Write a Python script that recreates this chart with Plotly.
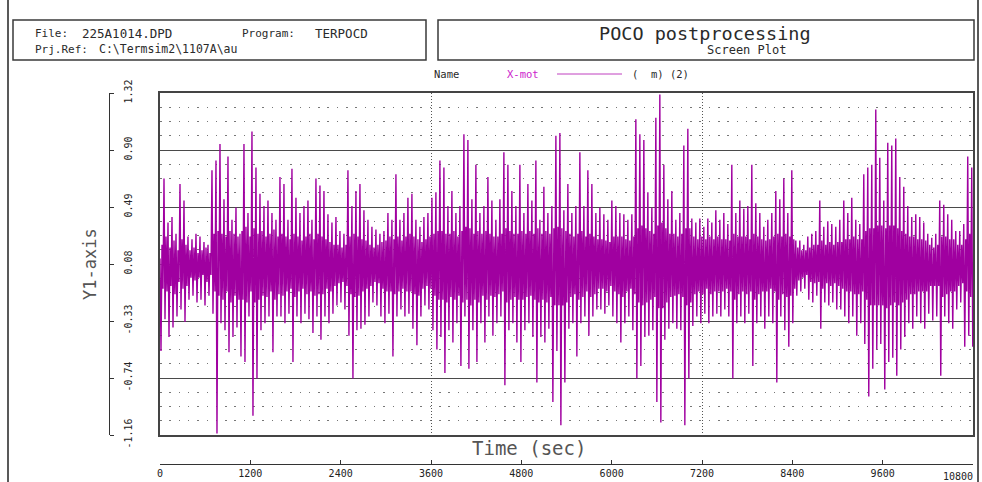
import numpy as np
import plotly.graph_objects as go

# ---- data -------------------------------------------------------------
T_STEP = 13.28  # sample interval of the displayed record, s

# X-mot response (m), sampled every T_STEP seconds
x_mot = [
    0.12, -0.55, 0.22, -0.10, 0.70, -0.32, 0.28, -0.12, 0.38, -0.45, 0.20, -0.08, 0.42, -0.38, 0.25, -0.14, 0.30, -0.30, 0.18, -0.05,
    0.66, -0.25, 0.26, -0.10, 0.54, -0.34, 0.22, -0.08, 0.28, -0.18, 0.18, -0.02, 0.26, -0.15, 0.20, -0.04, 0.30, -0.20, 0.16, -0.02,
    0.28, -0.18, 0.18, 0.00, 0.24, -0.22, 0.20, -0.05, 0.22, -0.15, 0.16, 0.00, 0.76, -0.28, 0.30, -0.12, 0.83, -1.15, 0.32, -0.15,
    0.95, -0.35, 0.30, -0.18, 0.55, -0.40, 0.28, -0.12, 0.86, -0.56, 0.32, -0.20, 0.40, -0.45, 0.30, -0.15, 0.49, -0.38, 0.28, -0.18,
    0.30, -0.59, 0.32, -0.18, 0.95, -0.63, 0.35, -0.20, 0.45, -0.30, 0.28, -0.12, 1.04, -1.02, 0.34, -0.20, 0.78, -0.75, 0.30, -0.18,
    0.59, -0.40, 0.32, -0.15, 0.50, -0.35, 0.28, -0.16, 0.54, -0.30, 0.30, -0.12, 0.45, -0.56, 0.33, -0.18, 0.40, -0.30, 0.28, -0.14,
    0.71, -0.30, 0.30, -0.15, 0.66, -0.35, 0.28, -0.12, 0.40, -0.28, 0.26, -0.10, 0.77, -0.63, 0.30, -0.16, 0.56, -0.30, 0.28, -0.12,
    0.45, -0.35, 0.25, -0.10, 0.50, -0.28, 0.28, -0.14, 0.54, -0.32, 0.30, -0.12, 0.40, -0.42, 0.26, -0.15, 0.70, -0.30, 0.30, -0.14,
    0.65, -0.47, 0.28, -0.14, 0.61, -0.30, 0.26, -0.10, 0.44, -0.35, 0.24, -0.12, 0.38, -0.28, 0.22, -0.08, 0.42, -0.22, 0.22, -0.06,
    0.32, -0.20, 0.20, -0.05, 0.30, -0.25, 0.22, -0.08, 0.76, -0.44, 0.28, -0.14, 0.50, -0.75, 0.30, -0.16, 0.61, -0.40, 0.28, -0.15,
    0.66, -0.39, 0.26, -0.12, 0.47, -0.36, 0.25, -0.10, 0.40, -0.30, 0.22, -0.08, 0.35, -0.20, 0.20, -0.05, 0.33, -0.22, 0.22, -0.06,
    0.30, -0.30, 0.24, -0.10, 0.32, -0.35, 0.25, -0.12, 0.45, -0.28, 0.28, -0.12, 0.40, -0.59, 0.26, -0.14, 0.73, -0.30, 0.28, -0.12,
    0.40, -0.25, 0.25, -0.10, 0.45, -0.30, 0.28, -0.12, 0.56, -0.28, 0.30, -0.12, 0.59, -0.39, 0.28, -0.14, 0.40, -0.51, 0.26, -0.15,
    0.35, -0.30, 0.24, -0.10, 0.42, -0.22, 0.26, -0.08, 0.45, -0.25, 0.28, -0.10, 0.56, -0.40, 0.30, -0.15, 0.60, -0.54, 0.32, -0.18,
    0.83, -0.45, 0.32, -0.18, 0.78, -0.71, 0.30, -0.20, 0.50, -0.40, 0.30, -0.16, 0.61, -0.49, 0.32, -0.18, 0.45, -0.35, 0.28, -0.15,
    0.50, -0.66, 0.32, -0.20, 1.02, -0.30, 0.35, -0.18, 0.98, -0.68, 0.34, -0.22, 0.55, -0.40, 0.30, -0.18, 0.80, -0.63, 0.32, -0.20,
    0.45, -0.35, 0.30, -0.15, 0.50, -0.49, 0.32, -0.18, 0.71, -0.30, 0.30, -0.15, 0.54, -0.44, 0.28, -0.16, 0.40, -0.35, 0.28, -0.14,
    0.55, -0.30, 0.30, -0.12, 0.89, -0.80, 0.34, -0.20, 0.80, -0.40, 0.32, -0.18, 0.61, -0.35, 0.30, -0.16, 0.50, -0.49, 0.30, -0.18,
    0.80, -0.63, 0.32, -0.18, 0.45, -0.40, 0.30, -0.16, 0.66, -0.35, 0.32, -0.15, 0.54, -0.45, 0.30, -0.18, 0.83, -0.78, 0.34, -0.20,
    0.40, -0.45, 0.30, -0.18, 0.64, -0.49, 0.32, -0.20, 0.45, -0.39, 0.30, -0.16, 0.50, -0.92, 0.34, -0.22, 1.01, -0.55, 0.35, -0.22,
    1.03, -1.09, 0.34, -0.22, 0.47, -0.78, 0.32, -0.20, 0.66, -0.39, 0.30, -0.16, 0.45, -0.35, 0.28, -0.14, 0.50, -0.59, 0.30, -0.18,
    0.89, -0.35, 0.32, -0.16, 0.50, -0.30, 0.28, -0.12, 0.76, -0.44, 0.30, -0.16, 0.66, -0.30, 0.28, -0.14, 0.45, -0.25, 0.26, -0.10,
    0.49, -0.25, 0.26, -0.10, 0.44, -0.28, 0.25, -0.12, 0.40, -0.22, 0.24, -0.08, 0.54, -0.30, 0.28, -0.12, 0.50, -0.35, 0.28, -0.14,
    0.45, -0.49, 0.28, -0.16, 0.44, -0.35, 0.26, -0.12, 0.40, -0.30, 0.25, -0.10, 0.44, -0.40, 0.28, -0.14, 1.13, -0.75, 0.34, -0.20,
    1.02, -0.66, 0.36, -0.22, 0.98, -0.45, 0.34, -0.20, 0.60, -0.44, 0.32, -0.18, 0.49, -0.40, 0.30, -0.16, 1.14, -0.92, 0.36, -0.24,
    1.31, -1.07, 0.38, -0.24, 0.80, -0.47, 0.34, -0.20, 0.55, -0.39, 0.30, -0.16, 0.61, -0.35, 0.30, -0.15, 0.40, -0.39, 0.28, -0.14,
    0.45, -0.40, 0.30, -0.16, 0.94, -1.09, 0.34, -0.22, 1.06, -0.75, 0.34, -0.20, 0.41, -0.37, 0.28, -0.14, 0.38, -0.30, 0.26, -0.12,
    0.41, -0.35, 0.28, -0.14, 0.35, -0.28, 0.26, -0.10, 0.41, -0.35, 0.28, -0.14, 0.38, -0.30, 0.26, -0.12, 0.47, -0.28, 0.28, -0.12,
    0.40, -0.30, 0.26, -0.12, 0.45, -0.25, 0.26, -0.10, 0.37, -0.30, 0.25, -0.12, 0.80, -0.75, 0.30, -0.18, 0.45, -0.35, 0.28, -0.14,
    0.54, -0.30, 0.28, -0.12, 0.48, -0.35, 0.28, -0.14, 0.50, -0.28, 0.26, -0.12, 0.80, -0.66, 0.30, -0.18, 0.52, -0.35, 0.28, -0.14,
    0.45, -0.30, 0.26, -0.12, 0.35, -0.39, 0.25, -0.12, 0.40, -0.30, 0.26, -0.10, 0.45, -0.35, 0.28, -0.12, 0.61, -0.78, 0.30, -0.18,
    0.55, -0.30, 0.28, -0.14, 0.70, -0.40, 0.30, -0.16, 0.45, -0.52, 0.28, -0.15, 0.76, -0.35, 0.26, -0.10, 0.25, -0.15, 0.20, -0.04,
    0.25, -0.12, 0.18, -0.02, 0.22, -0.10, 0.18, 0.00, 0.28, -0.18, 0.20, -0.05, 0.30, -0.20, 0.22, -0.06, 0.32, -0.15, 0.22, -0.05,
    0.54, -0.39, 0.25, -0.10, 0.35, -0.20, 0.22, -0.06, 0.39, -0.22, 0.24, -0.08, 0.37, -0.20, 0.22, -0.06, 0.35, -0.25, 0.24, -0.08,
    0.40, -0.25, 0.24, -0.10, 0.54, -0.30, 0.26, -0.12, 0.45, -0.35, 0.26, -0.12, 0.56, -0.30, 0.28, -0.14, 0.40, -0.44, 0.26, -0.14,
    0.37, -0.35, 0.26, -0.12, 0.73, -0.50, 0.32, -0.18, 0.78, -0.88, 0.34, -0.22, 0.80, -0.68, 0.34, -0.22, 1.20, -0.54, 0.36, -0.22,
    0.85, -0.50, 0.36, -0.22, 0.54, -0.83, 0.34, -0.24, 0.96, -0.63, 0.36, -0.22, 0.94, -0.60, 0.36, -0.20, 0.99, -0.73, 0.34, -0.22,
    0.71, -0.54, 0.32, -0.20, 0.64, -0.45, 0.30, -0.18, 0.50, -0.35, 0.28, -0.14, 0.42, -0.39, 0.28, -0.14, 0.44, -0.30, 0.26, -0.12,
    0.42, -0.35, 0.26, -0.12, 0.38, -0.39, 0.25, -0.12, 0.30, -0.28, 0.22, -0.08, 0.27, -0.33, 0.20, -0.08, 0.30, -0.30, 0.22, -0.08,
    0.54, -0.73, 0.28, -0.16, 0.51, -0.30, 0.28, -0.14, 0.44, -0.35, 0.26, -0.12, 0.40, -0.39, 0.26, -0.12, 0.32, -0.25, 0.22, -0.08,
    0.32, -0.20, 0.22, -0.06, 0.37, -0.52, 0.26, -0.12, 0.86, -0.44, 0.30, -0.16, 0.78, -0.52,
]
time_s = np.arange(len(x_mot)) * T_STEP

Y_MIN, Y_MAX = -1.16, 1.32
y_tick_labels = ["-1.16", "-0.74", "-0.33", "0.08", "0.49", "0.90", "1.32"]
x_tick_values = [0, 1200, 2400, 3600, 4800, 6000, 7200, 8400, 9600, 10800]
x_tick_labels = ["0", "1200", "2400", "3600", "4800", "6000", "7200", "8400", "9600", "10800"]

# ---- page geometry ----------------------------------------------------
W, H = 982, 482
ML, MR, MT, MB = 0, 9, 93, 0
PW, PH = W - ML - MR, H - MT - MB


def px(x):
    return (x - ML) / PW


def py(y):
    return (H - MB - y) / PH


MONO = "DejaVu Sans Mono"
INK = "#333333"
MAGENTA = "#a000a0"

y_ticks = np.linspace(Y_MIN, Y_MAX, 7)
y_major = list(y_ticks[1:3]) + list(y_ticks[4:6])
y_minor = [v for v in np.linspace(Y_MIN, Y_MAX, 25)[1:-1] if min(abs(v - m) for m in y_major) > 1e-6]

fig = go.Figure()

fig.add_trace(go.Scatter(
    x=time_s, y=x_mot, mode="lines",
    line=dict(color=MAGENTA, width=1.4),
    hoverinfo="skip", showlegend=False,
))
# carrier for the detached scale axes
fig.add_trace(go.Scatter(
    x=[0, 10800], y=[Y_MIN, Y_MAX], xaxis="x2", yaxis="y2",
    mode="markers", marker=dict(opacity=0), hoverinfo="skip", showlegend=False,
))

# the last time label sits flush left of its tick, drawn separately below
x_tick_text = x_tick_labels[:-1] + [""]

fig.update_layout(
    width=W, height=H,
    margin=dict(l=ML, r=MR, t=MT, b=MB, autoexpand=False),
    paper_bgcolor="white", plot_bgcolor="white",
    font=dict(family=MONO, color=INK, size=10),
    xaxis=dict(
        domain=[px(160), 1], range=[0, 10800], automargin=False,
        tickvals=[3600, 7200], showticklabels=False, ticks="",
        showgrid=True, gridcolor="#555555", gridwidth=1, griddash="1px,2px",
        showline=True, mirror=True, linecolor="#444444", linewidth=1.5,
        zeroline=False,
    ),
    yaxis=dict(
        domain=[py(435), 1], range=[Y_MIN, Y_MAX], automargin=False,
        tickvals=y_major, showticklabels=False, ticks="",
        showgrid=True, gridcolor="#4a4a4a", gridwidth=1.2,
        minor=dict(tickvals=y_minor, showgrid=True, gridcolor="#777777",
                   griddash="1.5px,7.8px", gridwidth=1.2, ticks=""),
        showline=True, mirror=True, linecolor="#444444", linewidth=1.5,
        zeroline=False,
    ),
    xaxis2=dict(
        overlaying="x", anchor="free", position=py(464), side="bottom",
        range=[0, 10800], tickvals=x_tick_values, ticktext=x_tick_text,
        automargin=False, ticklabeloverflow="allow",
        ticks="inside", ticklen=4, tickwidth=1.2, tickcolor=INK,
        showline=True, linecolor=INK, linewidth=1.2,
        showgrid=False, zeroline=False,
        tickfont=dict(family=MONO, size=10, color="#222222"),
    ),
    yaxis2=dict(
        overlaying="y", anchor="free", position=px(109), side="right",
        range=[Y_MIN, Y_MAX], tickvals=list(y_ticks), ticktext=y_tick_labels,
        automargin=False, ticklabeloverflow="allow",
        ticks="outside", ticklen=4, tickwidth=1.2, tickcolor=INK,
        tickangle=-90, ticklabelstandoff=6,
        showline=True, linecolor=INK, linewidth=1.2,
        showgrid=False, zeroline=False,
        tickfont=dict(family=MONO, size=10, color="#222222"),
    ),
)

shapes = [
    # header boxes
    dict(type="rect", xref="paper", yref="paper", x0=px(13), x1=px(426), y0=py(60), y1=py(20),
         line=dict(color="#3a3a3a", width=1.5)),
    dict(type="rect", xref="paper", yref="paper", x0=px(438), x1=px(974), y0=py(60), y1=py(20),
         line=dict(color="#3a3a3a", width=1.5)),
    # page edges
    dict(type="line", xref="paper", yref="paper", x0=px(8), x1=px(8), y0=py(0), y1=py(482),
         line=dict(color="#222222", width=1.5)),
    dict(type="line", xref="paper", yref="paper", x0=px(978), x1=px(978), y0=py(0), y1=py(482),
         line=dict(color="#222222", width=1.5)),
    # legend sample line
    dict(type="line", xref="paper", yref="paper", x0=px(557), x1=px(622), y0=py(74), y1=py(74),
         line=dict(color="#c040c0", width=1)),
]
fig.update_layout(shapes=shapes)


def label(text, x, y, size=11, color="#2a2a2a", anchor="left", angle=0):
    fig.add_annotation(
        text=text, xref="paper", yref="paper", x=px(x), y=py(y),
        xanchor=anchor, yanchor="middle", showarrow=False, textangle=angle,
        font=dict(family=MONO, size=size, color=color),
    )


label("File:", 33, 33)
label("225A1014.DPD", 80, 33, size=12.5)
label("Program:", 240, 33)
label("TERPOCD", 313, 33, size=12.5)
label("Prj.Ref:", 33, 49)
label("C:\\Termsim2\\1107A\\au", 97, 49, size=11.5)
label("POCO postprocessing", 705, 33, size=18.5, anchor="center")
label("Screen Plot", 746, 50, size=12, anchor="center")
label("Name", 432, 74, size=10.5)
label("X-mot", 505, 74, size=10.5, color="#cc22cc")
label("(  m) (2)", 630, 74, size=10.5)
label("Time (sec)", 529, 448, size=19, color="#555555", anchor="center")
label("Y1-axis", 90, 264, size=17, color="#555555", anchor="center", angle=-90)
label(x_tick_labels[-1], 975, 476, size=10, color="#222222", anchor="right")

fig.write_html("out.html")
